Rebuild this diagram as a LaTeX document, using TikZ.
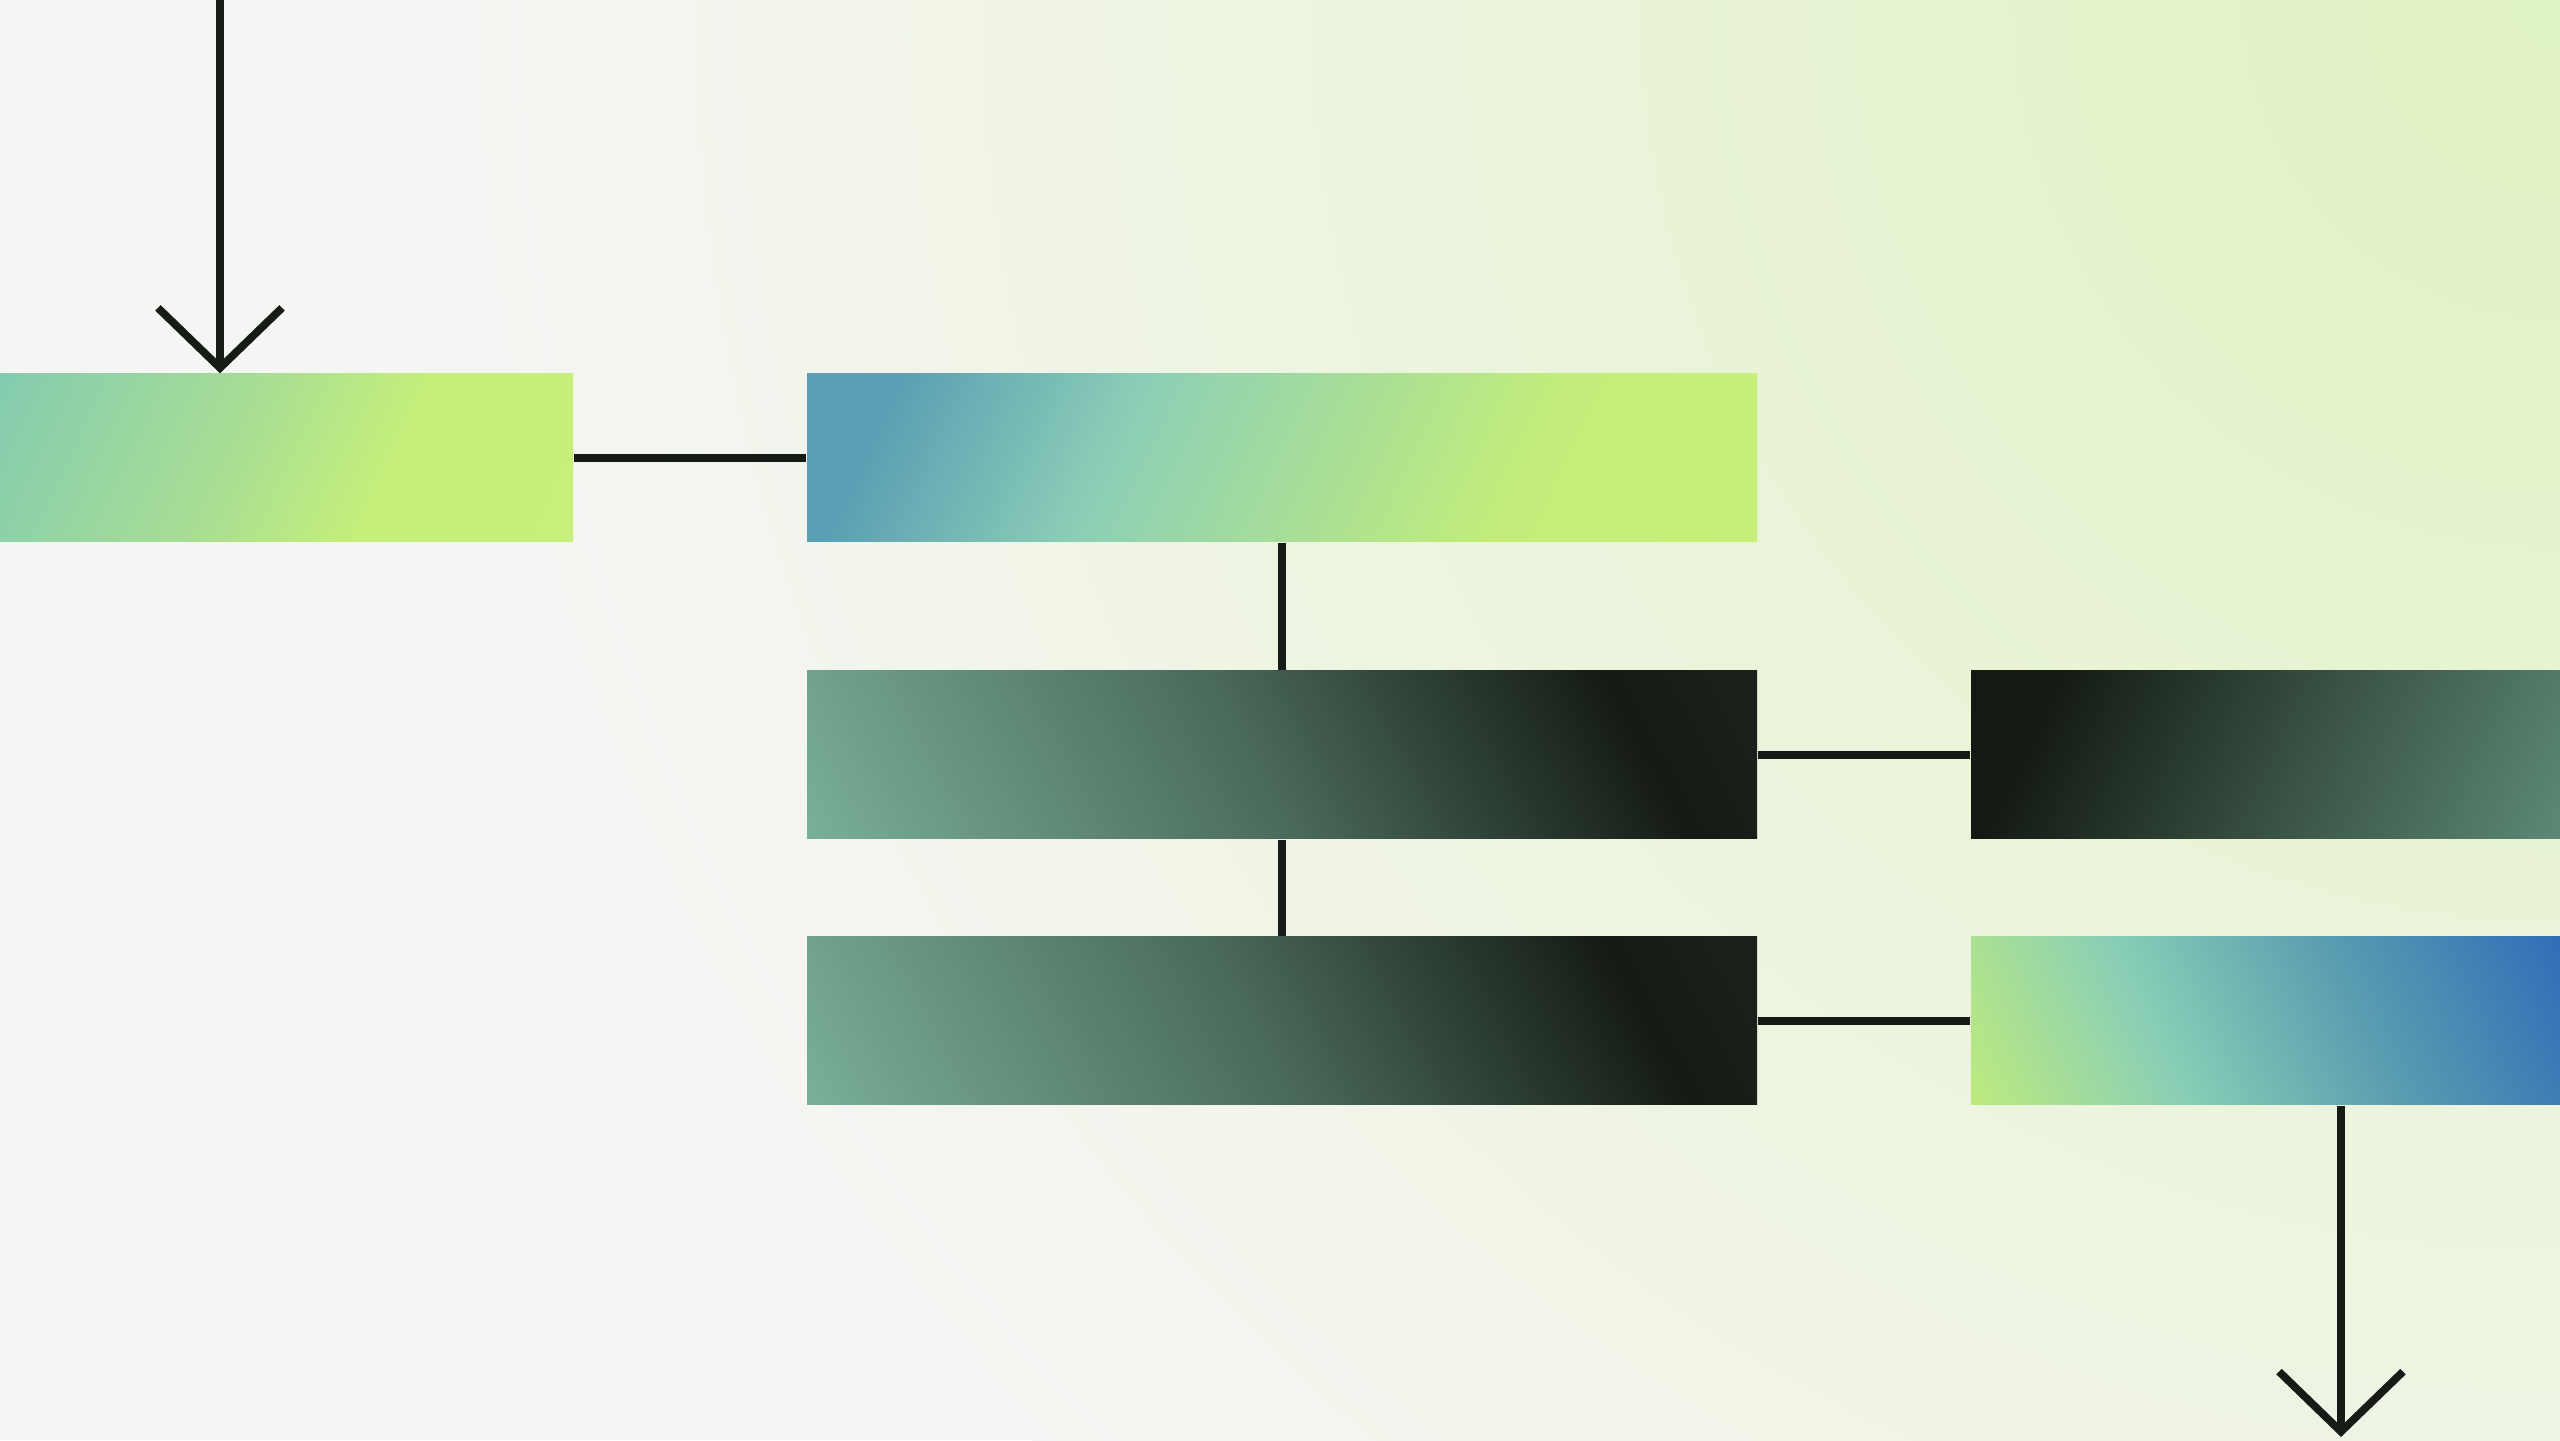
\documentclass[tikz,border=0pt]{standalone}
\usetikzlibrary{arrows.meta}

\definecolor{bgbase}{HTML}{F5F5F3}
\definecolor{bgtint}{HTML}{E0F3C2}
\definecolor{ink}{HTML}{161B16}

\definecolor{limeA}{HTML}{84CCB0}
\definecolor{limeB}{HTML}{A8DE94}
\definecolor{limeC}{HTML}{C4EF7A}
\definecolor{limeD}{HTML}{C8F07C}

\definecolor{skyA}{HTML}{5C9FB4}
\definecolor{skyB}{HTML}{8CCFB6}
\definecolor{skyC}{HTML}{C2ED7A}
\definecolor{skyD}{HTML}{C6F07A}

\definecolor{nightA}{HTML}{80B8A2}
\definecolor{nightB}{HTML}{4A6A5A}
\definecolor{nightC}{HTML}{141A14}
\definecolor{nightD}{HTML}{1A211A}

\definecolor{duskA}{HTML}{131913}
\definecolor{duskB}{HTML}{3E5A4A}
\definecolor{duskC}{HTML}{5E8C7A}

\definecolor{oceanA}{HTML}{C4EE76}
\definecolor{oceanB}{HTML}{8ACFB6}
\definecolor{oceanC}{HTML}{5A9CB0}
\definecolor{oceanD}{HTML}{2C6AB8}

% only the middle of a shading is seen on the path
\pgfdeclarehorizontalshading{limebar}{100bp}{color(0bp)=(limeA); color(17bp)=(limeA); color(44bp)=(limeB); color(61bp)=(limeC); color(85bp)=(limeD); color(100bp)=(limeD)}
\pgfdeclarehorizontalshading{skybar}{100bp}{color(0bp)=(skyA); color(23bp)=(skyA); color(39bp)=(skyB); color(66bp)=(skyC); color(79bp)=(skyD); color(100bp)=(skyD)}
\pgfdeclarehorizontalshading{nightbar}{100bp}{color(0bp)=(nightA); color(12bp)=(nightA); color(48bp)=(nightB); color(74bp)=(nightC); color(81bp)=(nightD); color(100bp)=(nightD)}
\pgfdeclarehorizontalshading{duskbar}{100bp}{color(0bp)=(duskA); color(25bp)=(duskA); color(58bp)=(duskB); color(85bp)=(duskC); color(100bp)=(duskC)}
\pgfdeclarehorizontalshading{oceanbar}{100bp}{color(0bp)=(oceanA); color(14bp)=(oceanA); color(38bp)=(oceanB); color(60bp)=(oceanC); color(85bp)=(oceanD); color(100bp)=(oceanD)}

\tikzset{
  bar/.style={rectangle, shade, draw=none, inner sep=0pt, minimum height=1.68cm},
  link/.style={draw=ink, line width=2.2pt},
  flow/.style={link, -{Straight Barb[length=6mm, width=12.4mm]}}
}

\begin{document}
\begin{tikzpicture}

  %background
  \useasboundingbox (0,0) rectangle (25.6,14.4);
  \clip (0,0) rectangle (25.6,14.4);
  \fill[bgbase] (0,0) rectangle (25.6,14.4);
  \shade[inner color=bgtint, outer color=bgbase] (25.6,14.4) circle (21);

  % bars
  \node[bar, shading=limebar, shading angle=-25, minimum width=5.73cm] (intake) at (2.865,9.82) {};
  \node[bar, shading=skybar, shading angle=-25, minimum width=9.5cm] (hub) at (12.82,9.82) {};
  \node[bar, shading=nightbar, shading angle=28, minimum width=9.5cm] (upper) at (12.82,6.85) {};
  \node[bar, shading=duskbar, shading angle=-25, minimum width=5.89cm] (branch) at (22.655,6.85) {};
  \node[bar, shading=nightbar, shading angle=28, minimum width=9.5cm] (lower) at (12.82,4.19) {};
  \node[bar, shading=oceanbar, shading angle=25, minimum width=5.89cm] (outlet) at (22.655,4.19) {};

  % links
  \draw[link] (intake.east) -- (hub.west);
  \draw[link] (hub.south) -- (upper.north);
  \draw[link] (upper.south) -- (lower.north);
  \draw[link] (upper.east) -- (branch.west);
  \draw[link] (lower.east) -- (outlet.west);

  %in and out
  \coordinate (in) at (2.2,14.4);
  \coordinate (out) at (23.41,0.03);
  \draw[flow] (in) -- (in |- intake.north);
  \draw[flow] (outlet.south -| out) -- (out);
\end{tikzpicture}
\end{document}
